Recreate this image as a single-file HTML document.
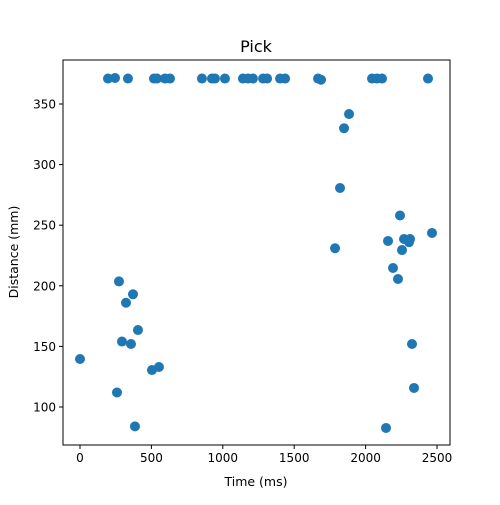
<!DOCTYPE html>
<html><head><meta charset="utf-8"><style>
body{margin:0;background:#fff;font-family:"Liberation Sans","DejaVu Sans",sans-serif}
svg text{font-family:"DejaVu Sans","Liberation Sans",sans-serif;fill:#000}
</style></head><body>
<svg id="chart" width="500" height="500" viewBox="0 0 500 500">
<rect width="500" height="500" fill="#fff"/>
<text x="256" y="52" font-size="16" text-anchor="middle">Pick</text>
<text x="256" y="486" font-size="12.5" text-anchor="middle">Time (ms)</text>
<text transform="translate(18,252) rotate(-90)" font-size="12.5" text-anchor="middle">Distance (mm)</text>
<g id="marks"></g>
<g id="axes"></g>
</svg>
<script>
const times = [196,245,336,518,539,595,630,854,924,945,1015,1141,1176,1211,1282,1310,1401,1436,1667,1688,2045,2080,2115,2437,
 273,371,322,406,294,357,0,504,553,259,385,
 1884,1849,1821,2241,2465,2157,2269,2311,2304,1786,2255,2192,2227,2325,2339,2143];
const distances = [371,371.5,371,371,371,371,371,371,371,371,371,371,371,371,371,371,371,371,371,370,371,371,371,371,
 203.6,193,186,163.5,154,152,139.6,130.5,133,112,84,
 341.7,330,280.7,258,243.6,237,238.6,238.6,236,231,229.5,214.7,205.6,152,115.7,82.7];
const xTicks = [0,500,1000,1500,2000,2500];
const yTicks = [100,150,200,250,300,350];

const L=63,R=450,T=60,B=445;
function xs(t){return 80+t*0.1428;}
function ys(d){return 407-(d-100)*1.212;}
const NS="http://www.w3.org/2000/svg";
const marks=document.getElementById('marks');
times.forEach((t,i)=>{
  const c=document.createElementNS(NS,'circle');
  c.setAttribute('cx',xs(t));c.setAttribute('cy',ys(distances[i]));c.setAttribute('r',5);
  c.setAttribute('fill','#1f77b4');
  
  
  marks.appendChild(c);
});
const axes=document.getElementById('axes');
const frame=document.createElementNS(NS,'rect');
frame.setAttribute('x',L);frame.setAttribute('y',T);frame.setAttribute('width',R-L);frame.setAttribute('height',B-T);
frame.setAttribute('fill','none');frame.setAttribute('stroke','#000');frame.setAttribute('stroke-width','1');


axes.appendChild(frame);
xTicks.forEach(v=>{
  const x=xs(v);
  const l=document.createElementNS(NS,'line');
  l.setAttribute('x1',x);l.setAttribute('x2',x);l.setAttribute('y1',B);l.setAttribute('y2',B+4);l.setAttribute('stroke','#000');
  
  
  axes.appendChild(l);
  const tx=document.createElementNS(NS,'text');
  tx.setAttribute('x',x);tx.setAttribute('y',B+17);tx.setAttribute('font-size','12');tx.setAttribute('text-anchor','middle');
  tx.textContent=v;
  
  
  axes.appendChild(tx);
});
yTicks.forEach(v=>{
  const y=ys(v);
  const l=document.createElementNS(NS,'line');
  l.setAttribute('x1',L-4);l.setAttribute('x2',L);l.setAttribute('y1',y);l.setAttribute('y2',y);l.setAttribute('stroke','#000');
  
  
  axes.appendChild(l);
  const tx=document.createElementNS(NS,'text');
  tx.setAttribute('x',L-7);tx.setAttribute('y',y+4.5);tx.setAttribute('font-size','12');tx.setAttribute('text-anchor','end');
  tx.textContent=v;
  
  
  axes.appendChild(tx);
});
</script>
</body></html>
